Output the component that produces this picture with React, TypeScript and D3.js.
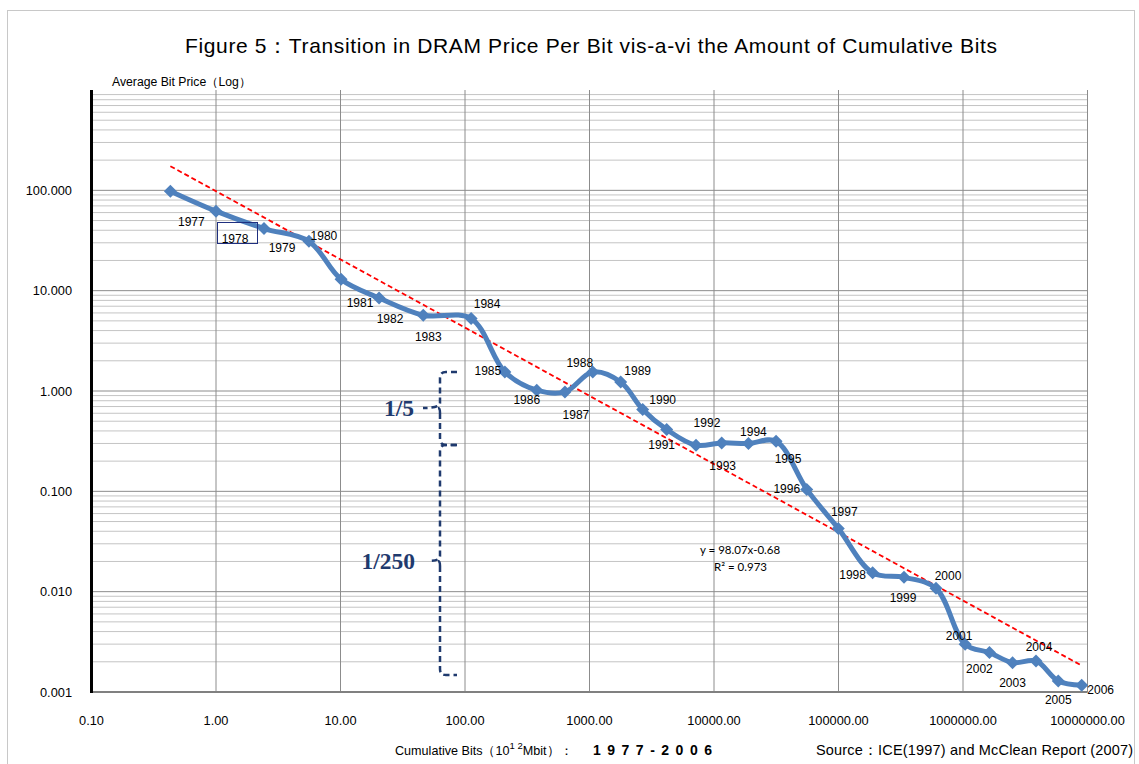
import React from "react";
import * as d3 from "d3";

const years = [1977,1978,1979,1980,1981,1982,1983,1984,1985,1986,1987,1988,1989,1990,1991,1992,1993,1994,1995,1996,1997,1998,1999,2000,2001,2002,2003,2004,2005,2006];
const cumBits = [0.43,1.0,2.43,5.58,10.1,20.4,46.2,112,209,377,635,1062,1780,2675,4170,7165,11530,18900,31500,55600,99600,188000,336000,607000,1040000,1630000,2500000,3860000,5820000,8980000];
const prices = [98,62,41.6,31,13.0,8.46,5.69,5.27,1.55,1.02,0.98,1.55,1.23,0.655,0.413,0.288,0.304,0.30,0.316,0.1045,0.0427,0.0154,0.0139,0.0108,0.00299,0.00247,0.00196,0.00204,0.00129,0.00117];
const labelOffsets: [number, number][] = [[21,30],[19,27],[18,19],[15,-6],[19,23],[11,21],[5,21],[16,-15],[-17,-1],[-10,9],[11,23],[-13,-9],[17,-11],[20,-10],[-5,15],[11,-23],[1,23],[5,-12],[12,17],[-20,-1],[6,-17],[-20,2],[-1,20],[12,-13],[-6,-9],[-10,16],[0,20],[3,-14],[0,19],[19,4]];
const xTicks = [0.1,1,10,100,1000,10000,100000,1000000,10000000];
const xTickLabels = ["0.10","1.00","10.00","100.00","1000.00","10000.00","100000.00","1000000.00","10000000.00"];
const yTicks = [100,10,1,0.1,0.01,0.001];
const yTickLabels = ["100.000","10.000","1.000","0.100","0.010","0.001"];
const trendA = 98.07;
const trendB = -0.68;

export default function App() {
  const left = 91.5, right = 1087.5, top = 90, bottom = 692;
  const x = d3.scaleLog().domain([0.1, 1e7]).range([left, right]);
  const y = d3.scaleLog().domain([0.001, 1000]).range([bottom, top]);

  const minor: number[] = [];
  for (let e = -3; e < 3; e++) {
    for (let k = 2; k <= 9; k++) minor.push(k * Math.pow(10, e));
  }

  const pts: [number, number][] = cumBits.map((c, i) => [x(c), y(prices[i])]);
  const line = d3.line().curve(d3.curveCatmullRom.alpha(0.5))(pts) || "";

  const tx0 = cumBits[0], tx1 = cumBits[cumBits.length - 1];
  const trendPts: [number, number][] = d3.range(0, 51).map(i => {
    const lx = Math.log10(tx0) + (Math.log10(tx1) - Math.log10(tx0)) * i / 50;
    const v = Math.pow(10, lx);
    return [x(v), y(trendA * Math.pow(v, trendB))];
  });
  const trendLine = d3.line()(trendPts) || "";

  const diamond = (cx: number, cy: number) => `M${cx},${cy - 6.5}L${cx + 6.5},${cy}L${cx},${cy + 6.5}L${cx - 6.5},${cy}Z`;

  const navy = "#1F3A6E";
  const bx = 440;
  const brace = (y0: number, y1: number, ym: number, tickX: number) =>
    `M457,${y0} L446,${y0} Q${bx},${y0} ${bx},${y0 + 6} L${bx},${ym - 5} Q${bx},${ym} ${tickX},${ym} M${bx},${ym + 5} Q${bx},${ym} ${bx - 2},${ym} M${bx},${ym + 5} L${bx},${y1 - 6} Q${bx},${y1} 446,${y1} L457,${y1}`;

  const font = "'Liberation Sans', Arial, sans-serif";

  return (
    <svg width={1139} height={764} style={{ position: "absolute", left: 0, top: 0, background: "#fff" }} fontFamily={font}>
      <rect x={7.5} y={10.5} width={1127} height={770} fill="#fff" stroke="#c8c8c8" strokeWidth={1} />
      <text x={185} y={53} fontSize={21} textLength={812} lengthAdjust="spacing" fill="#000">Figure 5：Transition in DRAM Price Per Bit vis-a-vi  the Amount of Cumulative Bits</text>
      <text x={112} y={86} fontSize={12} textLength={139} lengthAdjust="spacingAndGlyphs" fill="#000">Average Bit Price（Log）</text>

      {minor.map((v, i) => (
        <line key={"m" + i} x1={left} x2={right} y1={y(v)} y2={y(v)} stroke="#c4c4c4" strokeWidth={1} />
      ))}
      {yTicks.map((v, i) => (
        <line key={"M" + i} x1={left} x2={right} y1={y(v)} y2={y(v)} stroke="#8c8c8c" strokeWidth={1} />
      ))}
      {xTicks.slice(1).map((v, i) => (
        <line key={"v" + i} x1={x(v)} x2={x(v)} y1={top} y2={bottom} stroke="#8c8c8c" strokeWidth={1} />
      ))}
      <line x1={left} x2={right} y1={bottom} y2={bottom} stroke="#808080" strokeWidth={2} />
      <line x1={left} x2={left} y1={top} y2={bottom + 1} stroke="#000" strokeWidth={3} />

      {yTicks.map((v, i) => (
        <text key={"yl" + i} x={72} y={y(v) + 4.5} textAnchor="end" fontSize={12.8} fill="#000">{yTickLabels[i]}</text>
      ))}
      {xTicks.map((v, i) => (
        <text key={"xl" + i} x={x(v)} y={725} textAnchor="middle" fontSize={12.8} fill="#000">{xTickLabels[i]}</text>
      ))}

      <path d={trendLine} fill="none" stroke="#FF0000" strokeWidth={1.8} strokeDasharray="5,3" />
      <path d={line} fill="none" stroke="#4F81BD" strokeWidth={5} strokeLinejoin="round" />
      {pts.map((p, i) => (
        <path key={"d" + i} d={diamond(p[0], p[1])} fill="#4F81BD" />
      ))}

      <rect x={217.5} y={222.5} width={40} height={21} fill="none" stroke="#1F2F7F" strokeWidth={1} />
      {years.map((yr, i) => (
        <text key={"t" + i} x={pts[i][0] + labelOffsets[i][0]} y={pts[i][1] + labelOffsets[i][1] + 4.5} textAnchor="middle" fontSize={12} fill="#000">{yr}</text>
      ))}

      <text x={700} y={554} fontSize={11.5} fontFamily="Lato, 'Open Sans', sans-serif" fill="#000">y = 98.07x-0.68</text>
      <text x={714} y={571} fontSize={11.5} fontFamily="Lato, 'Open Sans', sans-serif" fill="#000">R² = 0.973</text>

      <g fill="none" stroke={navy} strokeWidth={2.5} strokeDasharray="6,4">
        <path d={brace(372, 445, 408, 423)} />
        <path d={brace(445, 675, 561, 428)} />
      </g>
      <text x={414} y={416} textAnchor="end" fontSize={23.5} fontWeight="bold" fontFamily="'Liberation Serif', 'Times New Roman', serif" fill={navy}>1/5</text>
      <text x={415} y={569} textAnchor="end" fontSize={23.5} fontWeight="bold" fontFamily="'Liberation Serif', 'Times New Roman', serif" fill={navy}>1/250</text>

      <text x={395} y={755} fontSize={12.6} fill="#000">
        Cumulative Bits（10<tspan fontSize={9.5} dy={-6}>1 2</tspan><tspan dy={6}>Mbit）：</tspan>
      </text>
      <text x={593} y={755} fontSize={14} fontWeight="bold" textLength={119} lengthAdjust="spacing" fill="#000">1 9 7 7 - 2 0 0 6</text>
      <text x={816} y={755} fontSize={14.5} textLength={317} lengthAdjust="spacing" fill="#000">Source：ICE(1997) and McClean Report (2007)</text>
    </svg>
  );
}
